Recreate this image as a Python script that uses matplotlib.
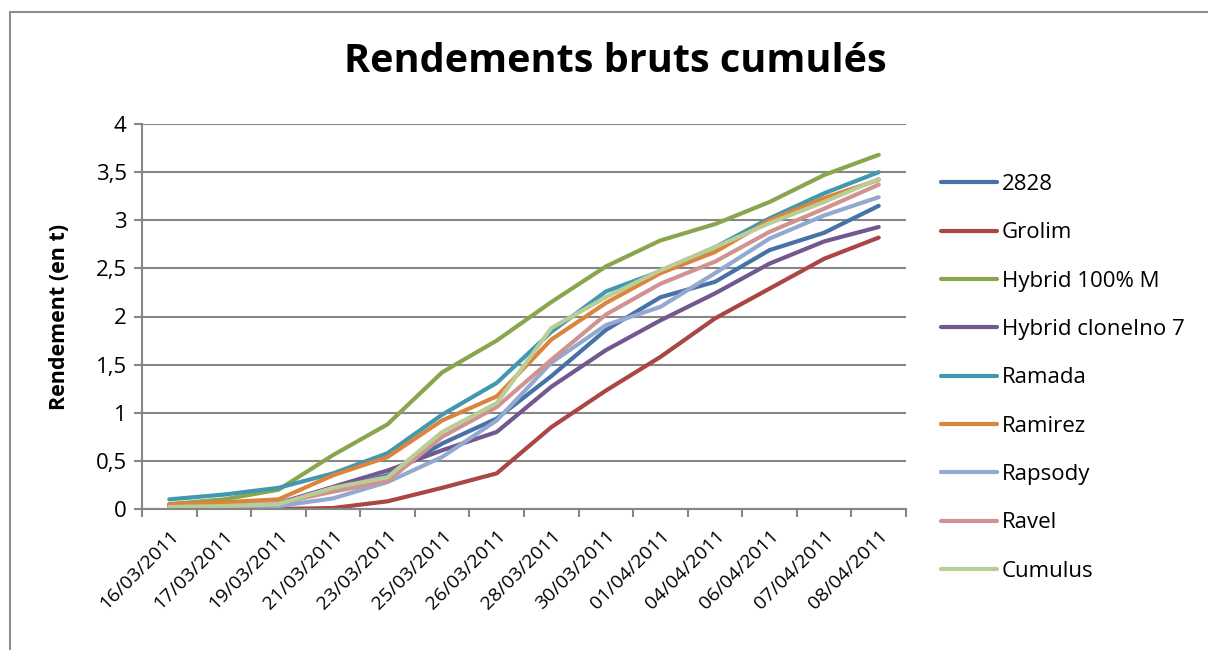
import matplotlib.pyplot as plt
import matplotlib.patches as mpatches

plt.rcParams['font.family'] = ['Open Sans', 'DejaVu Sans']

dates = ['16/03/2011', '17/03/2011', '19/03/2011', '21/03/2011', '23/03/2011',
         '25/03/2011', '26/03/2011', '28/03/2011', '30/03/2011', '01/04/2011',
         '04/04/2011', '06/04/2011', '07/04/2011', '08/04/2011']

s_2828 = [0.03, 0.04, 0.05, 0.20, 0.35, 0.68, 0.94, 1.38, 1.86, 2.20, 2.36, 2.69, 2.87, 3.15]
s_grolim = [0.00, 0.00, 0.00, 0.01, 0.08, 0.22, 0.37, 0.85, 1.23, 1.58, 1.98, 2.29, 2.60, 2.82]
s_hyb100 = [0.05, 0.10, 0.20, 0.56, 0.88, 1.42, 1.75, 2.15, 2.52, 2.79, 2.96, 3.19, 3.47, 3.68]
s_clone7 = [0.03, 0.04, 0.06, 0.23, 0.40, 0.61, 0.80, 1.27, 1.65, 1.96, 2.24, 2.55, 2.78, 2.93]
s_ramada = [0.10, 0.15, 0.22, 0.37, 0.58, 0.98, 1.31, 1.84, 2.26, 2.47, 2.72, 3.02, 3.28, 3.50]
s_ramirez = [0.05, 0.07, 0.10, 0.35, 0.54, 0.92, 1.17, 1.76, 2.14, 2.45, 2.67, 3.00, 3.23, 3.42]
s_rapsody = [0.01, 0.02, 0.03, 0.11, 0.28, 0.54, 0.92, 1.52, 1.91, 2.10, 2.45, 2.81, 3.05, 3.24]
s_ravel = [0.02, 0.03, 0.06, 0.18, 0.29, 0.75, 1.06, 1.55, 2.02, 2.34, 2.57, 2.88, 3.12, 3.37]
s_cumulus = [0.02, 0.03, 0.05, 0.22, 0.33, 0.80, 1.10, 1.88, 2.20, 2.48, 2.72, 2.97, 3.19, 3.43]

names = ['2828', 'Grolim', 'Hybrid 100% M', 'Hybrid cloneIno 7', 'Ramada',
         'Ramirez', 'Rapsody', 'Ravel', 'Cumulus']
series = [s_2828, s_grolim, s_hyb100, s_clone7, s_ramada,
          s_ramirez, s_rapsody, s_ravel, s_cumulus]
colors = ['#4572A7', '#AA4643', '#89A54E', '#71588F', '#4198AF',
          '#DB843D', '#93A9CF', '#D19392', '#B9CD96']

fig = plt.figure(figsize=(12.08, 6.5), dpi=100)

# outer chart border
border = mpatches.Rectangle((10 / 1208, -0.1), 1.2, (650 - 12) / 650 + 0.1,
                            transform=fig.transFigure, fill=False,
                            edgecolor='#8c8c8c', linewidth=1.5)
fig.patches.append(border)

ax = fig.add_axes([142 / 1208, 141 / 650, 764 / 1208, 385 / 650])

x = list(range(len(dates)))
for name, vals, col in zip(names, series, colors):
    ax.plot(x, vals, color=col, linewidth=3, label=name,
            solid_capstyle='round', solid_joinstyle='round')

grid_col = '#868686'
ax.set_ylim(0, 4)
ax.set_xlim(-0.5, len(dates) - 0.5)
ax.set_yticks([0, 0.5, 1, 1.5, 2, 2.5, 3, 3.5, 4])
ax.set_yticklabels(['0', '0,5', '1', '1,5', '2', '2,5', '3', '3,5', '4'], fontsize=16)
ax.yaxis.grid(True, color=grid_col, linewidth=1.5)
ax.set_axisbelow(True)

# category boundaries as ticks, labels at centres
ax.set_xticks([i - 0.5 for i in range(len(dates) + 1)])
ax.set_xticklabels([])
ax.set_xticks(x, minor=True)
ax.set_xticklabels(dates, minor=True, rotation=45, ha='right',
                   rotation_mode='anchor', fontsize=14)
ax.tick_params(axis='x', which='minor', length=0, pad=13)
ax.tick_params(axis='x', which='major', length=6, width=1.5, color=grid_col)
ax.tick_params(axis='y', length=6, width=1.5, color=grid_col, pad=5)

for side in ['top', 'right']:
    ax.spines[side].set_visible(False)
for side in ['left', 'bottom']:
    ax.spines[side].set_color(grid_col)
    ax.spines[side].set_linewidth(1.5)

ax.set_ylabel('Rendement (en t)', fontsize=15.5, fontweight='bold')
ax.yaxis.set_label_coords(-0.094, 0.5)

fig.text(615 / 1208, 1 - 62 / 650, 'Rendements bruts cumulés', fontsize=28.5,
         fontweight='bold', ha='center', va='center')

leg = fig.legend(loc='upper left', bbox_to_anchor=(941 / 1208, 1 - 174 / 650),
                 frameon=False, fontsize=16, handlelength=2.5, labelspacing=1.23,
                 handletextpad=0.25, borderpad=0, borderaxespad=0)

fig.savefig('out.png', dpi=100)
